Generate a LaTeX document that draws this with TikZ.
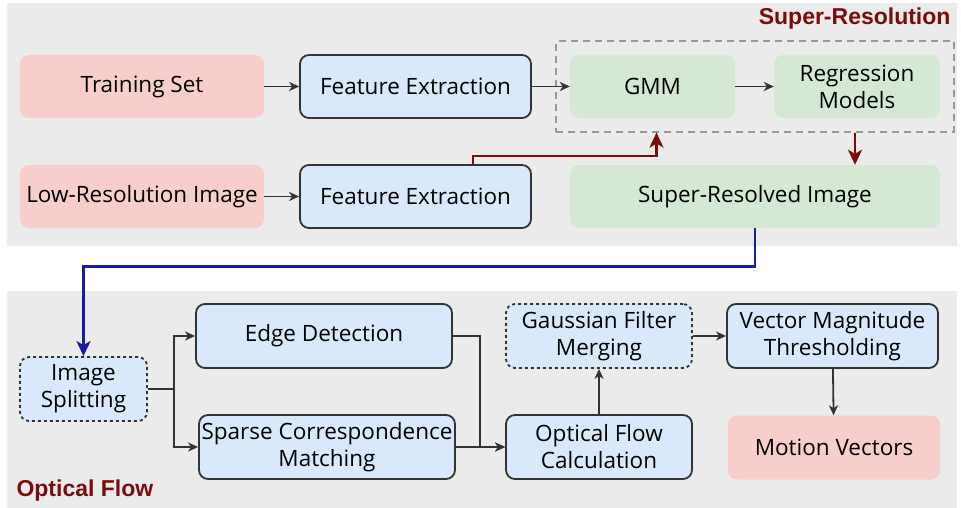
\documentclass[tikz,border=0pt]{standalone}
\usepackage{fontspec}
\setmainfont{Open Sans}
\newfontfamily\headfont{Liberation Sans}
\usetikzlibrary{positioning}
\usetikzlibrary{calc}
\usetikzlibrary{fit}
\usetikzlibrary{arrows.meta}

\definecolor{panelgray}{HTML}{EBEBEB}
\definecolor{inputred}{HTML}{F8CECC}
\definecolor{procblue}{HTML}{DAE8FC}
\definecolor{modelgreen}{HTML}{D5E8D4}
\definecolor{darkred}{HTML}{7A0C0C}
\definecolor{linkblue}{HTML}{1A1AA8}

\tikzset{
  box/.style={ rounded corners=9pt
             , minimum height=63pt
             , inner sep=0pt
             , align=center
             , font=\fontsize{22.5}{27}\selectfont
             },
  inbox/.style={box, fill=inputred},
  procbox/.style={box, fill=procblue, draw=black!80, line width=1.8pt},
  modelbox/.style={box, fill=modelgreen},
  flow/.style={>={Stealth[length=10pt, width=9pt, inset=3pt]}, ->, line width=1.8pt, draw=black!80},
  bigflow/.style={flow, >={Stealth[length=15pt, width=14pt, inset=4pt]}},
  panel/.style={fill=panelgray},
  heading/.style={text=darkred, font=\headfont\bfseries\fontsize{23}{26}\selectfont}
}

\begin{document}
\begin{tikzpicture}[x=1pt, y=-1pt]

  \useasboundingbox (0,0) rectangle (961,508);

  % the two panels
  \fill[panel] (7,3) rectangle (957,246);
  \fill[panel] (7,291) rectangle (957,508);

  \node[heading, anchor=east] (srtitle) at (954,19) {Super-Resolution};
  \node[heading, anchor=west] (oftitle) at (13,491) {Optical Flow};

  % super-resolution part
  \node[inbox, minimum width=244pt] (train) at (142,86.5) {Training Set};
  \node[procbox, minimum width=231pt] (feat1) at (415.5,86.5) {Feature Extraction};
  \node[modelbox, minimum width=165pt] (gmm) at (652.5,86.5) {GMM};
  \node[modelbox, minimum width=166pt] (regr) at (857,86.5) {Regression\\Models};

  \node[inbox, minimum width=244pt] (lowres) at (142,196.5) {Low-Resolution Image};
  \node[procbox, minimum width=231pt] (feat2) at (415.5,196.5) {Feature Extraction};
  \node[modelbox, minimum width=370pt] (superres) at (755,196.5) {Super-Resolved Image};

  \node[draw=black!40, dash pattern=on 7pt off 5pt, line width=1.8pt,
        inner sep=13.5pt, fit=(gmm)(regr)] (model) {};

  \draw[flow] (train) -- (feat1);
  \draw[flow] (lowres) -- (feat2);
  \draw[flow] (feat1) -- (gmm);
  \draw[flow] (gmm) -- (regr);

  \draw[bigflow, draw=darkred, line width=2.4pt]
    ([xshift=-59pt]feat2.north east) -- ++(0,-8) -| ([xshift=4pt]gmm.south |- model.south);
  \draw[bigflow, draw=darkred, line width=2.4pt]
    ([xshift=-2pt]regr.south |- model.south) -- ([xshift=-2pt]regr.south |- superres.north);

  % optical flow part
  \node[procbox, dashed, minimum width=127pt, minimum height=64pt] (split) at (83.5,389) {Image\\Splitting};
  \node[procbox, minimum width=256pt, minimum height=64pt] (edge) at (324,336) {Edge Detection};
  \node[procbox, minimum width=256pt, minimum height=64pt] (sparse) at (327,447) {Sparse Correspondence\\Matching};
  \node[procbox, minimum width=186pt, minimum height=64pt] (optflow) at (599,447) {Optical Flow\\Calculation};
  \node[procbox, dashed, minimum width=186pt, minimum height=64pt] (gauss) at (599,336) {Gaussian Filter\\Merging};
  \node[procbox, minimum width=211pt, minimum height=64pt] (thresh) at (832.5,336) {Vector Magnitude\\Thresholding};
  \node[inbox, minimum width=212pt, minimum height=64pt] (motion) at (834,447.5) {Motion Vectors};

  \draw[bigflow, draw=linkblue, line width=2.8pt]
    (superres.south) -- ++(0,38) -| (split.north);

  \draw[line width=1.8pt, draw=black!80] (split.east) -- ++(26,0) coordinate (fork);
  \draw[flow] (fork) |- (edge.west);
  \draw[flow] (fork) |- (sparse.west);
  \draw[flow] (edge.east) -- ++(27,0) |- (optflow.west);
  \draw[flow] (sparse.east) -- (optflow.west);
  \draw[flow] (optflow) -- (gauss);
  \draw[flow] (gauss) -- (thresh);
  \draw[flow] (thresh) -- (motion);

\end{tikzpicture}
\end{document}
